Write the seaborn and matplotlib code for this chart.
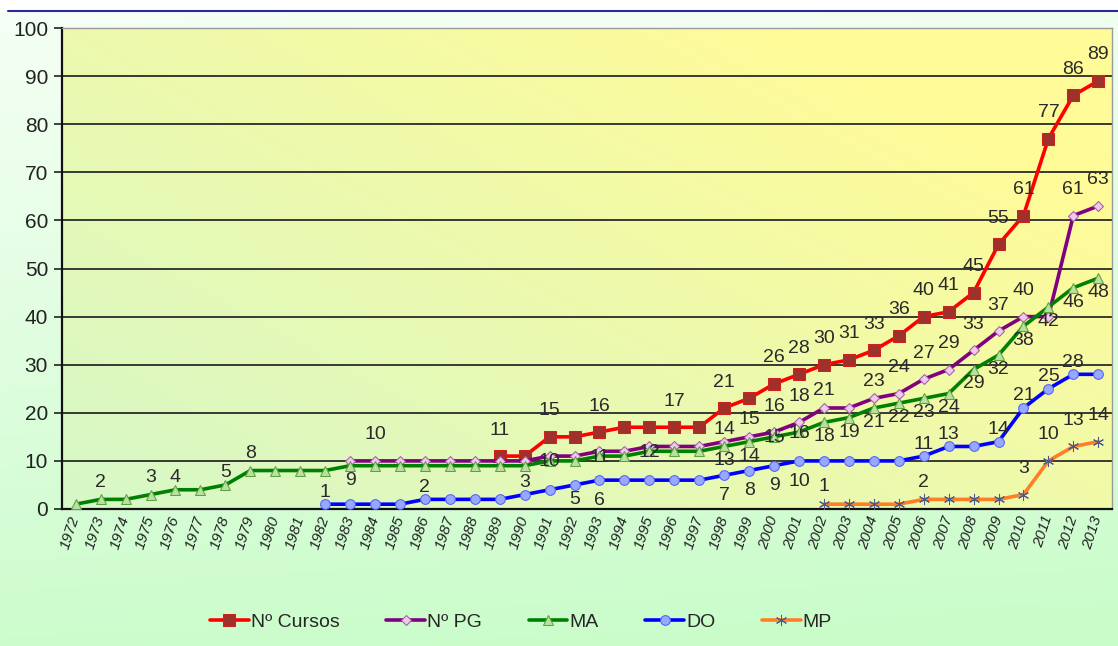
import numpy as np
import pandas as pd
import matplotlib
matplotlib.use("Agg")
import matplotlib.pyplot as plt
from matplotlib.colors import to_rgb
import seaborn as sns

nan = np.nan
years = list(range(1972, 2014))

cursos = [nan]*17 + [11, 11, 15, 15, 16, 17, 17, 17, 17, 21, 23, 26, 28, 30, 31, 33,
                     36, 40, 41, 45, 55, 61, 77, 86, 89]
pg = [nan]*11 + [10]*8 + [11, 11, 12, 12, 13, 13, 13, 14, 15, 16, 18, 21, 21, 23, 24, 27, 29,
                          33, 37, 40, 40, 61, 63]
ma = [1, 2, 2, 3, 4, 4, 5, 8, 8, 8, 8] + [9]*8 + [10, 10, 11, 11, 12, 12, 12, 13, 14, 15, 16,
                                                18, 19, 21, 22, 23, 24, 29, 32, 38, 42, 46, 48]
do = [nan]*10 + [1, 1, 1, 1, 2, 2, 2, 2, 3, 4, 5, 6, 6, 6, 6, 6, 7, 8, 9, 10, 10, 10, 10, 10,
                 11, 13, 13, 14, 21, 25, 28, 28]
mp = [nan]*30 + [1, 1, 1, 1, 2, 2, 2, 2, 3, 10, 13, 14]

series_names = ["Nº Cursos", "Nº PG", "MA", "DO", "MP"]
series_values = [cursos, pg, ma, do, mp]

# labelled points: year -> placement code
labels_cursos = {1989: 'a', 1991: 'a', 1993: 'a', 1996: 'a', 1998: 'a', 2000: 'a', 2001: 'a',
                 2002: 'a', 2003: 'a', 2004: 'a', 2005: 'a', 2006: 'a', 2007: 'a', 2008: 'a',
                 2009: 'a', 2010: 'a', 2011: 'a', 2012: 'a', 2013: 'a'}
labels_pg = {1984: 'a', 1998: 's', 1999: 'm', 2000: 'a', 2001: 'a', 2002: 'm', 2004: 'm',
             2005: 'a', 2006: 'a', 2007: 'a', 2008: 'a', 2009: 'a', 2010: 'a', 2012: 'a',
             2013: 'a'}
labels_ma = {1973: 'm', 1975: 'm', 1976: 's', 1978: 's', 1979: 'm', 1983: 'b', 1991: 'o',
             1993: 'o', 1995: 'o', 1998: 'b', 1999: 'b', 2000: 'o', 2001: 'o', 2002: 'b',
             2003: 'b', 2004: 'b', 2005: 'b', 2006: 'b', 2007: 'b', 2008: 'b', 2009: 'b',
             2010: 'b', 2011: 'b', 2012: 'b', 2013: 'b'}
labels_do = {1982: 's', 1986: 's', 1990: 's', 1992: 'b', 1993: 'B', 1998: 'B', 1999: 'B',
             2000: 'B', 2001: 'B', 2006: 's', 2007: 's', 2009: 's', 2010: 's', 2011: 's',
             2012: 's'}
labels_mp = {2002: 'm', 2006: 'm', 2010: 'a', 2011: 'a', 2012: 'a', 2013: 'a'}
series_labels = [labels_cursos, labels_pg, labels_ma, labels_do, labels_mp]
label_dy = {'a': 5.4, 'm': 3.6, 's': 2.5, 'o': -0.2, 'b': -3.0, 'B': -4.2}

styles = [
    dict(color="#ff0000", marker="s", markersize=8, markerfacecolor="#a0302a", markeredgecolor="#d02020"),
    dict(color="#800080", marker="D", markersize=5, markerfacecolor="#f0c8f0", markeredgecolor="#a060a0"),
    dict(color="#008000", marker="^", markersize=7, markerfacecolor="#b8e0a0", markeredgecolor="#60a040"),
    dict(color="#0000ff", marker="o", markersize=7, markerfacecolor="#99a8ff", markeredgecolor="#5060ff"),
    dict(color="#ff7f27", marker=(6, 2, 0), markersize=8, markerfacecolor="#4a5a8a", markeredgecolor="#4a5a8a"),
]

sns.set_theme(style="white")
plt.rcParams['font.family'] = ['Liberation Sans', 'DejaVu Sans']

W, H = 1118, 646
fig = plt.figure(figsize=(W/100, H/100), dpi=100)

# figure background gradient
bg = fig.add_axes([0, 0, 1, 1], zorder=-10)
bg.set_axis_off()
ny, nx = 200, 300
yy, xx = np.mgrid[0:1:ny*1j, 0:1:nx*1j]
top = np.array(to_rgb("#f6fff6"))
bot = np.array(to_rgb("#c8fcc8"))
t = np.clip(yy*0.9 + xx*0.1, 0, 1)[..., None]
img = top*(1-t) + bot*t
bg.imshow(img, extent=[0, 1, 0, 1], aspect='auto', origin='upper')
bg.fill_between([0, 1], 1 - 11/H, 1, color="white", zorder=2)
bg.plot([8/W, 1], [1 - 11/H, 1 - 11/H], color="#2a2a9a", lw=1.5, zorder=3)
bg.set_xlim(0, 1)
bg.set_ylim(0, 1)

ax = fig.add_axes([62/W, 1 - 509/H, (1112-62)/W, (509-28)/H])

# axes background gradient
bl = np.array(to_rgb("#d6f8c8"))
tr = np.array(to_rgb("#fffb98"))
t2 = np.clip(xx*0.65 + (1-yy)*0.55, 0, 1)[..., None]
img2 = bl*(1-t2) + tr*t2
ax.imshow(img2, extent=[0, 1, 0, 1], transform=ax.transAxes, aspect='auto',
          origin='upper', zorder=0)

x = np.arange(len(years))
for name, vals, st in zip(series_names, series_values, styles):
    df = pd.DataFrame({"x": x, "y": vals}).dropna()
    sns.lineplot(data=df, x="x", y="y", ax=ax, label=name, linewidth=2.6,
                 zorder=3, **st)

for vals, labs in zip(series_values, series_labels):
    for yr, pos in labs.items():
        i = years.index(yr)
        v = vals[i]
        ax.text(i, v + label_dy[pos], f"{int(v)}", ha="center", va="center",
                fontsize=14, color="#2a2a2a", zorder=5)

ax.set_xlim(-0.55, len(years) - 0.45)
ax.set_ylim(0, 100)
ax.set_yticks(range(0, 101, 10))
ax.set_yticklabels([str(v) for v in range(0, 101, 10)], fontsize=15, color="#222222")
for v in range(10, 100, 10):
    ax.axhline(v, color="#2a2a2a", lw=1.3, zorder=1)

ax.set_xticks(x)
ax.set_xticklabels([str(y) for y in years], rotation=72, fontsize=11, style="italic",
                   ha="right", va="center", rotation_mode="anchor", color="#222222")
ax.set_xticks(np.arange(-0.5, len(years), 1), minor=True)
ax.tick_params(axis="x", which="major", length=0, pad=5)
ax.tick_params(axis="x", which="minor", length=5, width=1.2, color="#222222", direction="out")
ax.tick_params(axis="y", length=6, width=1.2, color="#222222", direction="out", left=True, pad=4)
ax.set_xlabel("")
ax.set_ylabel("")

for s in ["left", "bottom"]:
    ax.spines[s].set_color("#111111")
    ax.spines[s].set_linewidth(1.6)
for s in ["top", "right"]:
    ax.spines[s].set_color("#9a9a9a")
    ax.spines[s].set_linewidth(1.0)

ax.legend_.remove()
h, l = ax.get_legend_handles_labels()
leg = fig.legend(h, l, loc="center", bbox_to_anchor=(0.466, 1 - 622/H), ncol=5,
                 frameon=False, fontsize=14, handlelength=2.0, handletextpad=0.1,
                 columnspacing=2.4)

fig.savefig("out.png", dpi=100)
